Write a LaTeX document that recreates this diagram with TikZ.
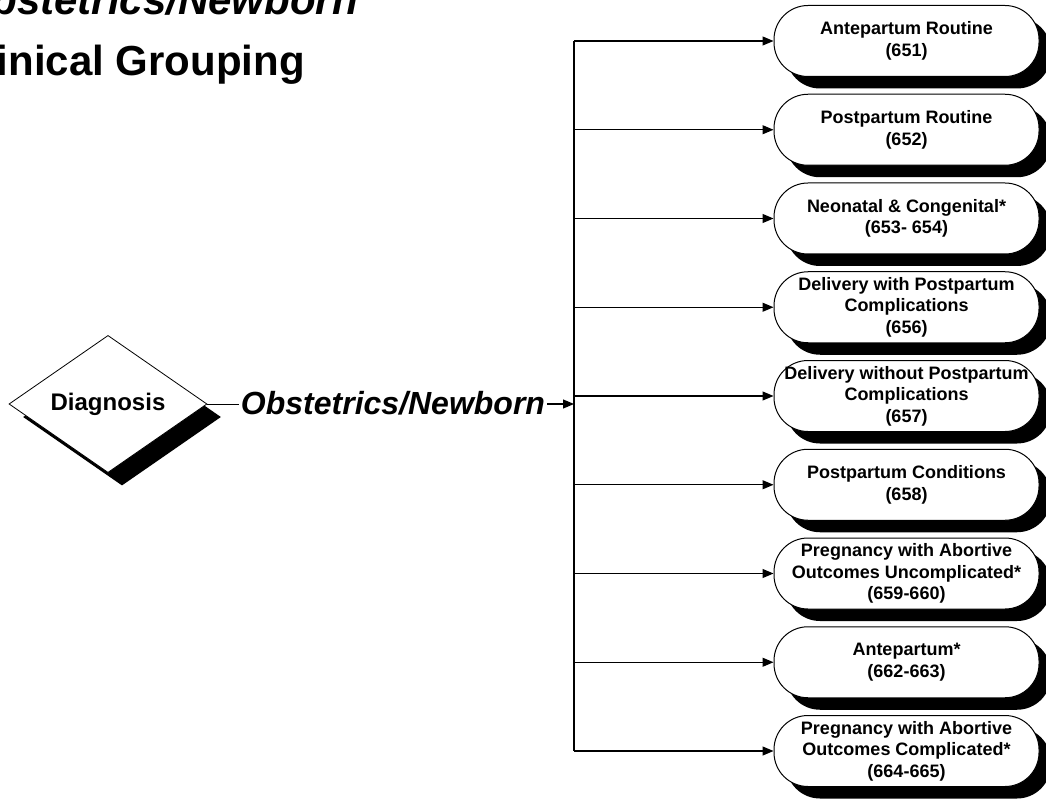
\documentclass[tikz,border=0pt]{standalone}
\usepackage{fontspec}
\setmainfont{Liberation Sans}
\usetikzlibrary{arrows.meta,shapes.geometric,shadows}
\begin{document}
\begin{tikzpicture}[x=1pt,y=-1pt,
 grp/.style={draw,line width=1pt,fill=white,rounded corners=34pt,minimum width=265pt,minimum height=71pt,inner sep=0pt,align=center,font=\fontsize{18}{21.5}\selectfont\bfseries,drop shadow={shadow xshift=12pt,shadow yshift=-12pt,fill=black,opacity=1}},
 dia/.style={shape=diamond,draw,line width=0.8pt,fill=white,minimum width=198pt,minimum height=132pt,inner sep=0pt,font=\fontsize{24}{28}\selectfont\bfseries,drop shadow={shadow xshift=14pt,shadow yshift=-13pt,fill=black,opacity=1}},
 link/.style={line width=1.2pt,-{Triangle[length=11pt,width=9pt]}}]
 \useasboundingbox (0,0) rectangle (1046,799);
 % heading, cut at the page edge
 \node[anchor=base east,inner sep=0pt,font=\fontsize{42}{50}\selectfont\bfseries\itshape] (ttl) at (358,15) {Obstetrics/Newborn};
 \node[anchor=base east,inner sep=0pt,font=\fontsize{42}{50}\selectfont\bfseries] (sub) at (305,76) {Clinical Grouping};
 % decision and label
 \node[dia] (diag) at (108,404) {Diagnosis};
 \node[anchor=base,inner sep=2pt,font=\fontsize{32}{38}\selectfont\bfseries\itshape] (obs) at (393,414) {Obstetrics/Newborn};
 % groups
 \node[grp] (g1) at (906.5,41) {Antepartum Routine\\(651)};
 \node[grp] (g2) at (906.5,129.75) {Postpartum Routine\\(652)};
 \node[grp] (g3) at (906.5,218.5) {Neonatal \& Congenital*\\(653- 654)};
 \node[grp] (g4) at (906.5,307.25) {Delivery with Postpartum\\Complications\\(656)};
 \node[grp] (g5) at (906.5,396) {Delivery without Postpartum\\Complications\\(657)};
 \node[grp] (g6) at (906.5,484.75) {Postpartum Conditions\\(658)};
 \node[grp] (g7) at (906.5,573.5) {Pregnancy with Abortive\\Outcomes Uncomplicated*\\(659-660)};
 \node[grp] (g8) at (906.5,662.25) {Antepartum*\\(662-663)};
 \node[grp] (g9) at (906.5,751) {Pregnancy with Abortive\\Outcomes Complicated*\\(664-665)};
 % trunk
 \coordinate (top) at (574,41);
 \coordinate (bot) at (574,751);
 \draw[line width=1.2pt] (top) -- (bot);
 \draw[line width=0.8pt] (diag.east) -- (diag.east -| obs.west);
 \draw[link] (obs.east |- diag.east) -- (diag.east -| top);
 % branches
 \draw[link] (top) -- (g1.west);
 \draw[link] (g2.west -| top) -- (g2.west);
 \draw[link] (g3.west -| top) -- (g3.west);
 \draw[link] (g4.west -| top) -- (g4.west);
 \draw[link] (g5.west -| top) -- (g5.west);
 \draw[link] (g6.west -| top) -- (g6.west);
 \draw[link] (g7.west -| top) -- (g7.west);
 \draw[link] (g8.west -| top) -- (g8.west);
 \draw[link] (bot) -- (g9.west);
\end{tikzpicture}
\end{document}
